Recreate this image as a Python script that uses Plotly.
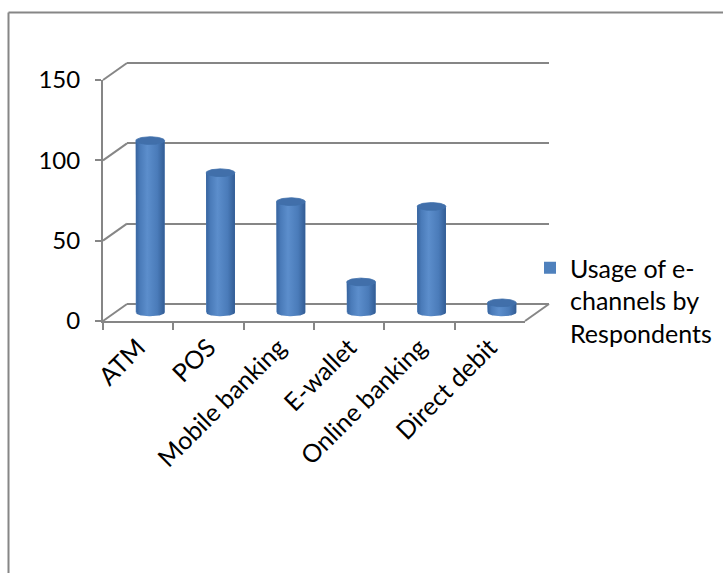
import math
import plotly.graph_objects as go

categories = ["ATM", "POS", "Mobile banking", "E-wallet", "Online banking", "Direct debit"]
values = [107, 87, 69, 19, 66, 6]
series_name = "Usage of e-<br>channels by<br>Respondents"
y_ticks = [0, 50, 100, 150]

W, H = 723, 573
FONT = "Lato"
GRAY = "#868686"
BLUE = "#4F81BD"

# pixel geometry of the pseudo-3D box
FX0, FX1, FY0, FY150 = 103, 525, 321, 80       # front plane
DX, DY = 24, -17                               # depth vector
YMIN_MID = -10

def px(x):
    return x / W

def py(y):
    return 1 - y / H

ppu = (FY0 - FY150) / 150.0   # pixels per value unit

fig = go.Figure()

# subplot 1: back wall (grid lines)
fig.add_trace(go.Scatter(x=[], y=[], xaxis="x", yaxis="y", showlegend=False, hoverinfo="skip"))

# subplot 2: mid-depth plane, holds the cylinders
fig.add_trace(go.Bar(
    x=list(range(len(categories))), y=values, width=0.41,
    marker=dict(color=BLUE, line=dict(width=0)),
    name=series_name, xaxis="x2", yaxis="y2", showlegend=True, hoverinfo="skip",
))

a = 0.205          # half width (x units)
b = 2.4            # ellipse half height (value units)
n = 40
cap_x, cap_y = [], []
for i, v in enumerate(values):
    bx, by = [], []
    bx.append(i - a); by.append(v)
    bx.append(i - a); by.append(0)
    for k in range(n + 1):
        t = math.pi + math.pi * k / n
        bx.append(i + a * math.cos(t)); by.append(b * math.sin(t))
    bx.append(i + a); by.append(v)
    for k in range(n + 1):
        t = math.pi * k / n
        bx.append(i + a * math.cos(t)); by.append(v - b * math.sin(t))
    fig.add_trace(go.Scatter(
        x=bx, y=by, mode="lines", fill="toself", line=dict(width=0, color=BLUE),
        fillgradient=dict(type="horizontal", colorscale=[
            [0, "#37639D"], [0.15, "#4A7BB9"], [0.4, "#5C8ECC"], [0.75, "#4A7BB9"], [1, "#325C94"]]),
        xaxis="x2", yaxis="y2", showlegend=False, hoverinfo="skip",
    ))
    for k in range(2 * n + 1):
        t = 2 * math.pi * k / (2 * n)
        cap_x.append(i + a * math.cos(t)); cap_y.append(v + b * math.sin(t))
    cap_x.append(None); cap_y.append(None)

fig.add_trace(go.Scatter(
    x=cap_x, y=cap_y, mode="lines", fill="toself",
    line=dict(width=0.8, color="#3F6EA9"), fillcolor="#416FAA",
    xaxis="x2", yaxis="y2", showlegend=False, hoverinfo="skip",
))

# subplot 3: front axes (category axis, ticks on boundaries)
fig.add_trace(go.Scatter(x=categories, y=[None] * len(categories), xaxis="x3", yaxis="y3",
                         mode="markers", showlegend=False, hoverinfo="skip"))

n_cat = len(categories)
xr = [-0.5, n_cat - 0.5]
BY0 = -1.0
BY1 = 151.0

fig.update_layout(
    template="none",
    width=W, height=H,
    margin=dict(l=0, r=0, t=0, b=0, pad=0, autoexpand=False),
    paper_bgcolor="white", plot_bgcolor="rgba(0,0,0,0)",
    font=dict(family=FONT, size=24, color="black"),
    xaxis=dict(domain=[px(FX0 + DX), px(FX1 + DX)], range=xr, visible=False, anchor="y",
               automargin=False),
    yaxis=dict(domain=[py(FY0 + DY - BY0 * ppu), py(FY0 + DY - BY1 * ppu)], range=[BY0, BY1],
               anchor="x", tickvals=y_ticks, showticklabels=False, ticks="", showline=False,
               zeroline=False, showgrid=True, gridcolor=GRAY, gridwidth=2, automargin=False),
    xaxis2=dict(domain=[px(FX0 + DX / 2), px(FX1 + DX / 2)], range=xr, anchor="y2",
                visible=False, automargin=False),
    yaxis2=dict(domain=[py(FY0 + DY / 2 - YMIN_MID * ppu), py(FY150 + DY / 2)],
                range=[YMIN_MID, 150], anchor="x2", visible=False, automargin=False),
    xaxis3=dict(domain=[px(FX0), px(FX1)], type="category", range=xr, anchor="y3",
                categoryorder="array", categoryarray=categories,
                tickson="boundaries", tickangle=-45,
                ticks="outside", ticklen=7, tickwidth=2, tickcolor=GRAY,
                showline=True, linecolor=GRAY, linewidth=2, showgrid=False, zeroline=False,
                tickfont=dict(family=FONT, size=25, color="black"), automargin=False),
    yaxis3=dict(domain=[py(FY0), py(FY150)], range=[0, 150], anchor="x3",
                tickvals=y_ticks, ticks="outside", ticklen=6, tickwidth=2, tickcolor=GRAY,
                showline=True, linecolor=GRAY, linewidth=2, showgrid=False, zeroline=False,
                ticklabelstandoff=10, tickfont=dict(family=FONT, size=24, color="black"),
                automargin=False),
    legend=dict(x=px(530), y=py(245), xanchor="left", yanchor="top", valign="top",
                bgcolor="rgba(0,0,0,0)", borderwidth=0,
                font=dict(family=FONT, size=25, color="black"), tracegroupgap=0),
    showlegend=True,
)

shapes = []
# outer chart border (top and left edges visible in the frame)
shapes.append(dict(type="line", xref="paper", yref="paper", x0=px(8.5), y0=py(12.5),
                   x1=1.0, y1=py(12.5), line=dict(color=GRAY, width=2), layer="above"))
shapes.append(dict(type="line", xref="paper", yref="paper", x0=px(8.5), y0=py(12.5),
                   x1=px(8.5), y1=0.0, line=dict(color=GRAY, width=2), layer="above"))
# left wall diagonals
for v in y_ticks:
    yf = FY0 - v * ppu
    shapes.append(dict(type="line", xref="paper", yref="paper",
                       x0=px(FX0), y0=py(yf), x1=px(FX0 + DX), y1=py(yf + DY),
                       line=dict(color=GRAY, width=2)))
# floor right edge
shapes.append(dict(type="line", xref="paper", yref="paper",
                   x0=px(FX1), y0=py(FY0), x1=px(FX1 + DX), y1=py(FY0 + DY),
                   line=dict(color=GRAY, width=2)))
fig.update_layout(shapes=shapes)

fig.write_html("out.html")
